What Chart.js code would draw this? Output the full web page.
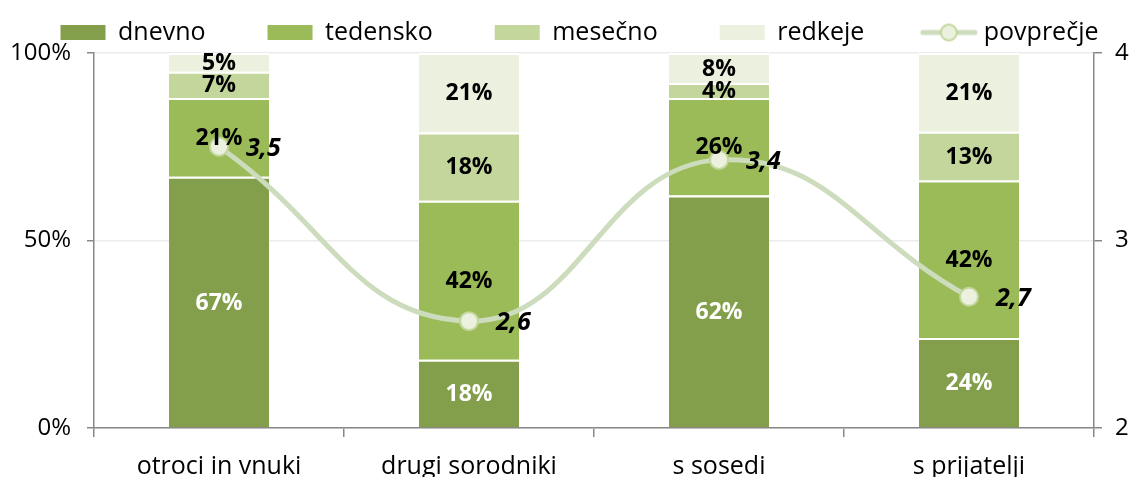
<!DOCTYPE html>
<html>
<head>
<meta charset="utf-8">
<script src="https://cdn.jsdelivr.net/npm/chart.js@4"></script>
<style>
  html, body { margin: 0; padding: 0; background: #fff; }
  #wrap { width: 1132px; height: 477px; }
</style>
</head>
<body>
<div id="wrap"><canvas id="myChart" width="1132" height="477"></canvas></div>
<script>
const categories = ['otroci in vnuki', 'drugi sorodniki', 's sosedi', 's prijatelji'];
const dnevno = [67, 18, 62, 24];
const tedensko = [21, 42, 26, 42];
const mesecno = [7, 18, 4, 13];
const redkeje = [5, 21, 8, 21];
const povprecje = [3.50, 2.57, 3.43, 2.70];
const leftTicks = [0, 50, 100];
const rightTicks = [2, 3, 4];

const barColors = ['#849f4b', '#9bbb59', '#c3d69b', '#ebf1de'];
const lineColor = '#cddcbc';
const font = 'Open Sans';

// 100% stacked, like the original
const raw = [dnevno, tedensko, mesecno, redkeje];
const totals = categories.map((c, i) => raw.reduce((s, a) => s + a[i], 0));
const share = arr => arr.map((v, i) => v / totals[i] * 100);

function barSet(label, arr, idx) {
  return {
    label: label,
    data: share(arr),
    raw: arr,
    backgroundColor: barColors[idx],
    borderColor: '#ffffff',
    borderWidth: { top: 2, right: 0, bottom: 0, left: 0 },
    borderSkipped: false,
    barPercentage: 0.4,
    categoryPercentage: 1,
    yAxisID: 'y',
    order: 1
  };
}

// legend icon for the line series
const icon = document.createElement('canvas');
icon.width = 58; icon.height = 20;
(function () {
  const c = icon.getContext('2d');
  c.strokeStyle = lineColor; c.lineWidth = 5; c.lineCap = 'round';
  c.beginPath(); c.moveTo(3, 10); c.lineTo(55, 10); c.stroke();
  c.beginPath(); c.arc(29, 10, 8, 0, Math.PI * 2);
  c.fillStyle = '#ebf1de'; c.fill();
  c.lineWidth = 2; c.strokeStyle = '#c3d69b'; c.stroke();
})();

const labelsPlugin = {
  id: 'valueLabels',
  afterDatasetsDraw(chart) {
    const ctx = chart.ctx;
    ctx.save();
    chart.data.datasets.forEach((ds, di) => {
      const meta = chart.getDatasetMeta(di);
      meta.data.forEach((el, j) => {
        if (ds.type === 'line') {
          ctx.font = 'italic bold 25px "' + font + '"';
          ctx.fillStyle = '#000';
          ctx.textAlign = 'left';
          ctx.textBaseline = 'middle';
          ctx.fillText(ds.data[j].toFixed(1).replace('.', ','), el.x + 27, el.y + 2);
        } else {
          ctx.font = 'bold 23px "' + font + '"';
          ctx.fillStyle = di === 0 ? '#fff' : '#000';
          ctx.textAlign = 'center';
          ctx.textBaseline = 'middle';
          ctx.fillText(ds.raw[j] + '%', el.x, (el.y + el.base) / 2 + 1);
        }
      });
    });
    ctx.restore();
  }
};

// keep the legend a single 53px band at the top, one row, starting near x=60
const legendBand = {
  id: 'legendBand',
  afterInit(chart) {
    const lg = chart.legend;
    const fit = lg.fit;
    lg.fit = function () { this.maxWidth = 1400; fit.call(this); this.height = 53; };
  },
  afterLayout(chart) {
    const lg = chart.legend;
    const p = lg.options.labels.padding;
    const lw = lg.lineWidths ? lg.lineWidths[0] : 1100;
    lg.right = 1400;
    lg.left = 2 * 60.5 - p + lw - lg.right;
    lg.top = -42; lg.bottom = 53;
  }
};

const ctx = document.getElementById('myChart').getContext('2d');

const chart = new Chart(ctx, {
  type: 'bar',
  data: {
    labels: categories,
    datasets: [
      barSet('dnevno', dnevno, 0),
      barSet('tedensko', tedensko, 1),
      barSet('mesečno', mesecno, 2),
      barSet('redkeje', redkeje, 3),
      {
        type: 'line',
        label: 'povprečje',
        data: povprecje,
        yAxisID: 'y1',
        borderColor: lineColor,
        borderWidth: 5,
        tension: 0.45,
        pointRadius: 9,
        pointBackgroundColor: '#ebf1de',
        pointBorderColor: '#c3d69b',
        pointBorderWidth: 2,
        order: 0
      }
    ]
  },
  options: {
    responsive: false,
    animation: false,
    layout: { padding: 0 },
    plugins: {
      tooltip: { enabled: false },
      legend: {
        position: 'top',
        onClick: null,
        labels: {
          font: { family: font, size: 25 },
          color: '#000',
          usePointStyle: true,
          pointStyleWidth: 45,
          boxHeight: 15,
          padding: 62,
          generateLabels(chart) {
            const items = Chart.defaults.plugins.legend.labels.generateLabels(chart);
            items.sort((a, b) => a.datasetIndex - b.datasetIndex);
            items.forEach(it => {
              const ds = chart.data.datasets[it.datasetIndex];
              if (ds.type === 'line') {
                it.pointStyle = icon;
              } else {
                it.pointStyle = 'rect';
                it.fillStyle = ds.backgroundColor;
                it.strokeStyle = ds.backgroundColor;
                it.lineWidth = 0;
              }
            });
            return items;
          }
        }
      }
    },
    scales: {
      x: {
        stacked: true,
        grid: { drawOnChartArea: false, offset: true, tickLength: 9, tickColor: '#888', lineWidth: 1.5 },
        border: { color: '#888', width: 1.5 },
        ticks: { font: { family: font, size: 25 }, color: '#000', padding: 15, maxRotation: 0 },
        afterFit(scale) { scale.height = 49; }
      },
      y: {
        stacked: true,
        position: 'left',
        min: 0,
        max: 100,
        afterBuildTicks(scale) { scale.ticks = leftTicks.map(v => ({ value: v })); },
        grid: { color: '#ececec', lineWidth: 1.5, tickLength: 7, tickColor: '#888' },
        border: { color: '#888', width: 1.5 },
        ticks: { font: { family: font, size: 24 }, color: '#000', padding: 16, callback: v => v + '%' },
        afterFit(scale) { scale.width = 94; }
      },
      y1: {
        position: 'right',
        min: 2,
        max: 4,
        afterBuildTicks(scale) { scale.ticks = rightTicks.map(v => ({ value: v })); },
        grid: { drawOnChartArea: false, tickLength: 8, tickColor: '#888', lineWidth: 1.5 },
        border: { color: '#888', width: 1.5 },
        ticks: { font: { family: font, size: 24 }, color: '#000', padding: 13 },
        afterFit(scale) { scale.width = 38; }
      }
    }
  },
  plugins: [labelsPlugin, legendBand]
});
</script>
</body>
</html>
